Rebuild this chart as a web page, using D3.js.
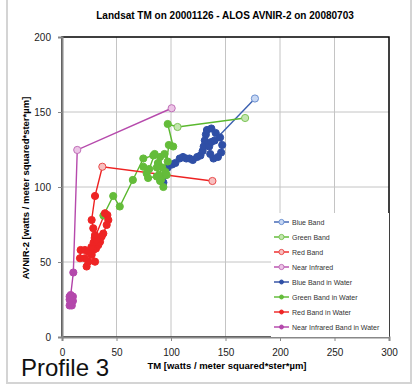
<!DOCTYPE html>
<html>
<head>
<meta charset="utf-8">
<script src="https://cdn.jsdelivr.net/npm/d3@7"></script>
<style>
  body { margin: 0; background: #fff; }
  svg text { font-family: "Liberation Sans", Arial, sans-serif; }
</style>
</head>
<body>
<div id="chart"></div>
<script>
// Series values [TM, AVNIR-2]
const blueBand = [[140, 131], [177, 159]];
const greenBand = [[97, 142], [106, 140], [168, 146]];
const redBand = [[30.3, 94], [37, 113.5], [138, 104]];
const nirBand = [[10.4, 43], [14, 124.7], [100.6, 152.5]];

const blueWater = [[93, 103], [95, 108], [97, 113], [101, 115], [104, 116], [108, 119], [111, 120],
  [114, 119], [117, 119], [120, 118], [124, 120], [127, 121], [129, 124], [130, 127], [131, 131],
  [132, 135], [133, 138], [137, 139], [141, 136], [145, 133], [147, 128], [146, 123], [143, 120],
  [139, 119], [136, 122], [135, 127], [137, 130], [140, 131]];
const greenWater = [[38, 81], [47, 94], [53, 87], [65, 104.7], [74.6, 119], [83.8, 121], [85, 122],
  [80, 112], [74.6, 113.5], [77.7, 109], [79, 106], [86.9, 107], [88, 116], [90, 120], [92, 113],
  [89, 108], [91, 105], [95, 110], [96, 108], [97, 117], [94, 122], [87, 113], [90, 104], [93, 100],
  [98, 128], [102, 127], [97, 142]];
const redWater = [[30, 66], [39.4, 82.5], [41.6, 81.3], [42.5, 78], [41, 74.7], [37.9, 69],
  [36.4, 67], [34.9, 63.5], [33.3, 61.3], [31.2, 59], [28.8, 58], [27.2, 54.7], [30.3, 50.2],
  [24.2, 50.2], [22.6, 47], [21, 52.5], [16.5, 52.5], [17.1, 58], [21, 58], [24.2, 56.9], [27, 60],
  [29, 63], [31.8, 64.7], [30.3, 68], [28.7, 72.5], [27.2, 78], [30.3, 94]];
const nirWater = [[7, 21], [8, 22], [9, 21], [10, 24], [8, 23], [7, 25], [9, 26], [10, 27],
  [7, 27], [8, 28], [10.4, 43]];

const seriesNames = ['Blue Band', 'Green Band', 'Red Band', 'Near Infrared',
  'Blue Band  in Water', 'Green Band in Water', 'Red Band  in Water', 'Near Infrared Band  in Water'];

const xTicks = [0, 50, 100, 150, 200, 250, 300];
const yTicks = [0, 50, 100, 150, 200];

const series = [
  { name: seriesNames[0], data: blueBand, line: '#3a5fb0', fill: '#c8d8f4', stroke: '#6a8fd0', open: true },
  { name: seriesNames[1], data: greenBand, line: '#5ab82e', fill: '#c4e6b0', stroke: '#7cc456', open: true },
  { name: seriesNames[2], data: redBand, line: '#ee2222', fill: '#f8c0c0', stroke: '#e84a4a', open: true },
  { name: seriesNames[3], data: nirBand, line: '#b64aac', fill: '#ecc4e6', stroke: '#c070b8', open: true },
  { name: seriesNames[4], data: blueWater, line: '#2a4aa0', fill: '#2f4fa6', stroke: '#2f4fa6', open: false },
  { name: seriesNames[5], data: greenWater, line: '#5ab82e', fill: '#64bc3a', stroke: '#64bc3a', open: false },
  { name: seriesNames[6], data: redWater, line: '#ee2020', fill: '#ee2424', stroke: '#ee2424', open: false },
  { name: seriesNames[7], data: nirWater, line: '#b040a8', fill: '#b448ac', stroke: '#b448ac', open: false }
];

const W = 414, H = 385;
const margin = { left: 62, right: 25, top: 37, bottom: 48 };

const svg = d3.select('#chart').append('svg')
  .attr('width', W)
  .attr('height', H);

// outer chart frame
svg.append('rect')
  .attr('x', 7).attr('y', -2)
  .attr('width', 404).attr('height', 385)
  .attr('fill', '#fff')
  .attr('stroke', '#d4d4d4')
  .attr('stroke-width', 2);

const x = d3.scaleLinear().domain([0, 300]).range([margin.left, W - margin.right]);
const y = d3.scaleLinear().domain([0, 200]).range([H - margin.bottom, margin.top]);

// gridlines
svg.append('g').selectAll('line.v')
  .data(xTicks.slice(1, -1))
  .join('line')
  .attr('x1', d => x(d)).attr('x2', d => x(d))
  .attr('y1', y(0)).attr('y2', y(200))
  .attr('stroke', '#c4c4c4').attr('stroke-width', 1);

svg.append('g').selectAll('line.h')
  .data(yTicks.slice(1, -1))
  .join('line')
  .attr('x1', x(0)).attr('x2', x(300))
  .attr('y1', d => y(d)).attr('y2', d => y(d))
  .attr('stroke', '#c4c4c4').attr('stroke-width', 1);

// plot area border
svg.append('rect')
  .attr('x', x(0)).attr('y', y(200))
  .attr('width', x(300) - x(0)).attr('height', y(0) - y(200))
  .attr('fill', 'none')
  .attr('stroke', '#000')
  .attr('stroke-width', 1.5);

// axes
const xAxis = svg.append('g')
  .attr('transform', `translate(0,${y(0)})`)
  .call(d3.axisBottom(x).tickValues(xTicks).tickSize(4).tickPadding(8));
const yAxis = svg.append('g')
  .attr('transform', `translate(${x(0)},0)`)
  .call(d3.axisLeft(y).tickValues(yTicks).tickSize(4).tickPadding(7));

[xAxis, yAxis].forEach(a => {
  a.select('.domain').attr('stroke', '#888').attr('stroke-width', 2);
  a.selectAll('.tick line').attr('stroke', '#888');
  a.selectAll('.tick text')
    .attr('font-size', 10)
    .attr('fill', '#222')
    .style('font-family', '"Liberation Sans", Arial, sans-serif');
});

// series
const line = d3.line().x(d => x(d[0])).y(d => y(d[1]));
const plot = svg.append('g');
const drawOrder = series.slice(4).concat(series.slice(0, 4));

drawOrder.forEach(s => {
  plot.append('path')
    .datum(s.data)
    .attr('d', line)
    .attr('fill', 'none')
    .attr('stroke', s.line)
    .attr('stroke-width', 1.4);
});
drawOrder.forEach(s => {
  plot.append('g').selectAll('circle')
    .data(s.open ? s.data.slice(1) : s.data)
    .join('circle')
    .attr('cx', d => x(d[0]))
    .attr('cy', d => y(d[1]))
    .attr('r', 3.6)
    .attr('fill', s.fill)
    .attr('stroke', s.stroke)
    .attr('stroke-width', 1);
});

// legend
const lg = svg.append('g');
lg.append('rect')
  .attr('x', 271).attr('y', 213)
  .attr('width', x(300) - 271).attr('height', y(0) - 213)
  .attr('fill', '#fff');
const item = lg.selectAll('g.item')
  .data(series)
  .join('g')
  .attr('transform', (d, i) => `translate(274,${222 + i * 15})`);
item.append('line')
  .attr('x1', 0).attr('x2', 15)
  .attr('stroke', d => d.line)
  .attr('stroke-width', 1.4);
item.append('circle')
  .attr('cx', 7.5).attr('r', d => d.open ? 2.6 : 2)
  .attr('fill', d => d.fill)
  .attr('stroke', d => d.stroke);
item.append('text')
  .attr('x', 18).attr('y', 2.5)
  .attr('font-size', 7)
  .attr('fill', '#333')
  .text(d => d.name);

// titles
svg.append('text')
  .attr('x', 225).attr('y', 19)
  .attr('text-anchor', 'middle')
  .attr('font-size', 10)
  .attr('font-weight', 'bold')
  .text('Landsat TM on 20001126 - ALOS AVNIR-2 on 20080703');

svg.append('text')
  .attr('x', 227).attr('y', 369)
  .attr('text-anchor', 'middle')
  .attr('font-size', 9.5)
  .attr('font-weight', 'bold')
  .text('TM [watts / meter squared*ster*µm]');

svg.append('text')
  .attr('transform', `translate(29,${(y(0) + y(200)) / 2 + 1}) rotate(-90)`)
  .attr('text-anchor', 'middle')
  .attr('font-size', 9.5)
  .attr('font-weight', 'bold')
  .text('AVNIR-2 [watts / meter squared*ster*µm]');

svg.append('text')
  .attr('x', 21).attr('y', 376)
  .attr('font-size', 24)
  .attr('fill', '#111')
  .text('Profile 3');
</script>
</body>
</html>
